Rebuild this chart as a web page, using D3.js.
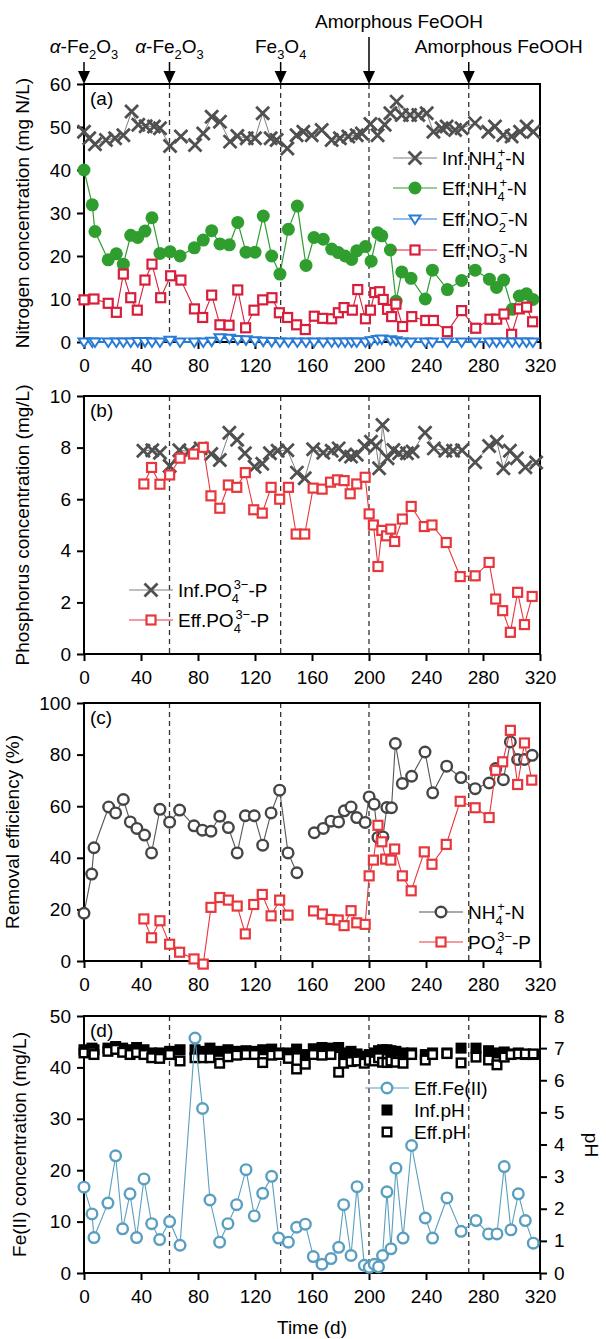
<!DOCTYPE html>
<html>
<head>
<meta charset="utf-8">
<script src="https://cdn.jsdelivr.net/npm/d3@7"></script>
<style>
  body { margin: 0; background: #fff; }
  svg { font-family: "Liberation Sans", Arial, sans-serif; }
</style>
</head>
<body>
<svg id="chart" width="606" height="1339"></svg>
<script>
// ---- data ----
var xTicks = [0, 40, 80, 120, 160, 200, 240, 280, 320];
var phaseDays = [60, 138, 200, 270];
var eventDays = [0, 60, 138, 200, 270];

// (a) nitrogen
var infNH4Day = [0,3.7,7.7,15.4,21.8,27.6,33.4,38.1,43.3,49.1,53.3,60.4,68,77.9,83.7,89.6,95.4,102.5,107.6,114.2,120,125.4,131,135.2,142.7,149.2,153.9,159.8,166.8,173.8,179.6,185.5,191.4,195,201,206,211,215,219.4,223,228.8,234.6,240.5,245.2,251,254.5,260.4,265,274.4,283.7,288.4,294.2,300.1,306,310.6,315.3];
var infNH4 = [48.9,47.4,46,47,47.4,48.1,53.6,50.5,50.2,50.1,49.7,45.6,47.8,45.8,48.5,52.4,51.2,46.6,47.9,47.4,47.4,53.2,47.4,47,45,48.1,48.9,48.1,49.3,47,47.4,47.8,48.1,48.5,50.7,48.1,50.5,53.2,55.9,52.8,52.8,52.8,53.2,48.9,49.7,50.1,49.3,49.7,50.9,48.9,50.1,48.1,47.8,48.9,50.1,48.9];

var effNH4Day = [0,5.8,7.7,17,22.7,27.6,32.8,37.7,42.8,47.7,53.3,60.4,67.4,77.4,83.7,89.6,95.4,102,107.9,113.7,120,125.8,131.7,137.5,143.4,149.7,155.8,161.4,167.9,173.8,178.5,183.2,187.8,191.4,197.5,201.5,206,209,215,219,223,229.5,239.5,244.5,255,265,274.5,284.5,289.5,294.5,300.5,305.5,310.5,315];
var effNH4 = [40,31.9,25.7,19.1,20.5,18.1,24.8,24.3,25.8,28.9,20.6,21,20,21.9,23.7,25.9,22.8,22.6,27.8,20.9,20.9,29.3,20,15.8,26.2,31.6,17.8,24.3,23.9,21.6,20.8,20,19.2,21.2,22.2,18.8,25.4,24.7,21.4,9.5,16.3,14.8,10,16.7,12.2,14.3,16.7,14.6,12.7,14.4,7.6,10.7,11.2,9.9];
var effNO2 = [0,0,0,0,0,0,0,0.1,0.1,0,0,0.4,0,0,0,0.2,1.0,0.9,0.6,0.5,0.3,0.2,0.1,0,0,0,0,0,0,0,0,0,0,0,0,0.3,0.6,0.7,0.5,0.3,0,0,0,0,0,0,0,0,0,0,0,0,0,0];

var effNO3Day = [0,7,17,22.7,27.6,32.8,37.4,42.8,47.7,53.8,60.8,68,77.5,83.3,89.6,95.4,101.8,107.9,113.4,119.3,125.4,131.9,137.1,142.9,149.2,155.3,161.6,167.5,173.8,178.5,182.5,188.3,192.1,197.5,201,204,207.5,210,213,215.9,218.9,223.6,230,239.8,245.2,255,265,274.9,284.9,289.6,294.7,300.1,305.5,310.6,314.8];
var effNO3 = [9.8,10,9,6.9,15.8,10.3,7.4,14.4,18.1,10.3,15.4,14.4,7.7,5.7,10.9,4,3.9,12.1,3.3,7.4,9.8,10.3,6.8,5.7,4,2.9,6,5.5,5.4,6.8,8,7.4,12.2,5.4,7.4,11.5,11.7,9.9,7.6,5.9,8.8,3.6,5.9,5,5,2.4,7.3,3.2,5.3,5.3,6.5,1.8,7.7,8.1,4.7];

// (b) phosphorus
var infPO4Day = [41.7,47.9,53.3,60.1,66.9,73.6,81.8,89.3,95.3,102,107.5,112.9,119.7,125.1,130.5,135.9,142.7,149.4,154.9,160.8,167.9,173.8,178.7,183.3,187.4,191.4,196.8,201.4,204.9,207.1,209.5,213,217.1,221.1,226.6,230.6,239.3,245.5,253.6,259,265.3,274.5,284.3,289.7,294.3,298.9,303.8,309.7,317.3];
var infPO4 = [7.88,7.9,7.8,7.29,7.9,7.85,7.97,7.75,7.52,8.58,8.3,7.78,7.26,7.37,7.78,7.88,7.9,7.03,6.81,7.94,7.8,7.88,7.97,7.72,7.65,7.72,8.06,8.23,8.06,7.2,8.88,7.59,7.91,7.78,7.78,7.85,8.58,7.97,7.88,7.88,7.9,7.43,8.06,8.23,7.2,7.88,7.59,7.24,7.42];
var effPO4Day = [42,47.4,53.3,60.1,67.4,76.9,83.7,89.1,95.3,101.3,107.2,113.2,119.1,125.1,131.3,137.3,143.5,148.9,154.9,160.8,167.1,173,177.9,182.5,186.8,191.4,197.3,200.1,203.1,206.3,209,212.3,215.3,218,223.4,229.6,238.8,244.2,254.2,264,274.5,284.3,288.9,293.8,299.2,304.3,309.1,314.5];
var effPO4 = [6.59,7.23,6.58,6.94,7.59,7.75,8.01,6.13,5.65,6.55,6.46,7.03,5.59,5.46,6.46,6.0,6.46,4.65,4.65,6.43,6.39,6.66,6.75,6.72,6.21,6.59,6.85,5.43,5.0,3.39,4.79,4.58,4.84,4.36,5.23,5.72,4.94,5.0,4.32,3.0,3.03,3.55,2.13,1.68,0.84,2.39,1.14,2.23];

// (c) removal efficiency (null = gap in the line)
var remNH4Day = [0,5.4,7,17.3,22.2,27.6,32.5,37.1,42.5,47.4,53.3,60.1,67.1,77.2,83.1,89.1,95.3,101.3,107.5,113.2,119.5,125.4,131.3,137.3,143.2,149.4,155,161.6,167.9,173.3,178.7,182.7,187.4,191.4,197.3,200.1,203.6,206.3,209.8,212.5,215.8,218.5,223.4,229.9,239.3,244.7,254.5,264.5,274.5,284.3,288.9,294.3,299.2,304.3,309.1,314.5];
var remNH4 = [18.5,33.7,43.9,59.7,57.4,62.6,53.9,51.4,48.8,41.9,58.8,53.8,58.5,52.4,50.7,50.3,56.1,51.7,41.9,56.3,56.3,44.9,57.4,66.2,41.9,34.2,null,49.7,51.4,54.2,53.9,58.2,59.7,55.6,53.7,63.6,60.8,47.9,48.1,59.5,59.4,84.3,68.8,71.6,81,65.2,75.5,71.1,66.8,69,74.6,70.3,84.9,78.1,78.1,79.7];
var remPO4Day = [42,47.4,53.3,60.1,67.1,77.2,83.7,89.1,95.3,101.3,107.5,113.2,119.1,125.1,131.3,137.3,143.2,152,161.1,167.3,173.3,178.4,182.5,187.4,191.4,197.3,200.1,203.1,206.3,209,211.7,215.3,218,223.4,229.6,238.8,244.2,254.2,264,274.5,284.3,288.9,293.8,299.2,304.3,309.1,314.2];
var remPO4 = [16.3,9,15.6,6.5,3.4,0.8,-1.2,20.8,24.6,23.6,21.3,10.5,21.9,25.8,17.5,23.6,17.8,null,19.4,18.2,16.1,15.9,13.7,19.5,14.8,14.2,33,39.1,52.6,46.2,39.5,39.1,43.4,33,27.2,42.3,37.5,45.2,61.9,59.4,55.6,73.9,77.2,89.4,68.4,84.5,70.1];

// (d) Fe(II) and pH
var feDay = [0,5.6,7,16.8,22.2,27.1,32.3,36.9,42.1,47.5,53.1,60.1,67.4,77.9,83.2,88.4,95.2,101,107.1,113.7,119.5,125.4,131.7,136.6,143.4,149.2,155.3,160.9,167,173.3,178.7,182.2,187.4,191.6,196.7,200.2,203.7,206.7,209.5,212.6,215.4,218.9,223.9,229.9,239.5,244.6,254.7,264.6,275.1,283.9,289.8,294.9,299.6,304.8,309.7,315.3];
var effFe = [16.7,11.5,6.9,13.6,22.8,8.6,15.4,6.9,18.3,9.6,6.5,10,5.4,45.7,32,14.2,6,9.6,13.3,20.1,11.1,15.5,18.8,6.8,6,8.9,9.5,3.2,1.7,2.8,5,13.3,3.4,16.8,1.5,1.1,1.7,1.2,3.4,15.8,4.7,20.4,6.8,24.8,10.7,6.8,14.6,8.1,10.2,7.6,7.6,20.7,8.4,15.4,10.2,5.8];
var infPH = [6.95,7.0,6.95,7.0,7.05,7.0,6.95,7.02,6.95,6.85,6.85,6.9,6.95,6.95,6.9,7.0,6.9,6.95,6.9,6.92,6.9,6.95,6.97,6.85,6.85,6.97,6.8,6.98,7.02,7.0,7.02,6.85,6.9,6.82,6.75,6.8,6.85,6.92,6.95,6.95,6.92,6.9,6.85,6.85,6.8,6.85,6.85,7.0,7.0,6.92,6.85,6.88,6.82,6.85,6.8,6.8];
var effPH = [6.85,6.88,6.8,6.9,6.96,6.87,6.8,6.86,6.8,6.7,6.68,6.8,6.6,6.7,6.7,6.7,6.53,6.73,6.78,6.8,6.8,6.55,6.78,6.8,6.68,6.35,6.5,6.8,6.78,6.8,6.25,6.53,6.58,6.6,6.53,6.62,6.6,6.7,6.56,6.55,6.6,6.56,6.53,6.8,6.63,6.8,6.83,6.54,6.72,6.63,6.48,6.72,6.8,6.82,6.82,6.82];

// ---- layout ----
var X0 = 84, X1 = 540;
var FS = 19;
var svg = d3.select("#chart");
var x = d3.scaleLinear().domain([0, 320]).range([X0, X1]);

var C = {
  gray: "#505050", grayLine: "#808080",
  green: "#2f9e2f", blue: "#2a7bd4", redA: "#d81e3a", red: "#e8373c",
  fe: "#5a9fbf"
};

function zip(days, vals) {
  return days.map(function(d, i) { return [d, vals[i]]; });
}

// text with sub / superscripts
function rich(sel, parts, fs) {
  var shift = 0;
  parts.forEach(function(p) {
    if (typeof p === "string") {
      sel.append("tspan").attr("dy", -shift).text(p);
      shift = 0;
    } else if (p.it) {
      sel.append("tspan").attr("dy", -shift).attr("font-style", "italic").text(p.it);
      shift = 0;
    } else if (p.sub && p.sup) {
      var sfs = fs * 0.68;
      var w = p.sub.length * 0.556 * sfs;
      sel.append("tspan").attr("font-size", sfs).attr("dy", fs * 0.3 - shift).text(p.sub);
      sel.append("tspan").attr("font-size", sfs).attr("dx", -w * 0.75).attr("dy", -fs * 0.72).text(p.sup);
      shift = -fs * 0.42;
    } else if (p.sub) {
      sel.append("tspan").attr("font-size", fs * 0.68).attr("dy", fs * 0.3 - shift).text(p.sub);
      shift = fs * 0.3;
    } else if (p.sup) {
      sel.append("tspan").attr("font-size", fs * 0.68).attr("dy", -fs * 0.42 - shift).text(p.sup);
      shift = -fs * 0.42;
    }
  });
}

// markers
function marker(g, type, color, px, py) {
  if (type === "x") {
    var s = 6.5;
    g.append("path").attr("d", "M" + (px - s) + "," + (py - s) + "L" + (px + s) + "," + (py + s) +
      "M" + (px - s) + "," + (py + s) + "L" + (px + s) + "," + (py - s))
      .attr("stroke", color).attr("stroke-width", 2.8).attr("fill", "none");
  } else if (type === "dot") {
    g.append("circle").attr("cx", px).attr("cy", py).attr("r", 6.5).attr("fill", color);
  } else if (type === "circ") {
    g.append("circle").attr("cx", px).attr("cy", py).attr("r", 5.3)
      .attr("fill", "#fff").attr("stroke", color).attr("stroke-width", 2.4);
  } else if (type === "tri") {
    g.append("path").attr("d", "M" + (px - 5.5) + "," + (py - 3.5) + "L" + (px + 5.5) + "," + (py - 3.5) + "L" + px + "," + (py + 5) + "Z")
      .attr("fill", "#fff").attr("stroke", color).attr("stroke-width", 2);
  } else if (type === "sq") {
    g.append("rect").attr("x", px - 4.5).attr("y", py - 4.5).attr("width", 9).attr("height", 9)
      .attr("fill", "#fff").attr("stroke", color).attr("stroke-width", 2.2);
  } else if (type === "fsq") {
    g.append("rect").attr("x", px - 5.5).attr("y", py - 5.5).attr("width", 11).attr("height", 11)
      .attr("fill", color);
  } else if (type === "hsq") {
    g.append("rect").attr("x", px - 4.3).attr("y", py - 4.3).attr("width", 8.6).attr("height", 8.6)
      .attr("fill", "#fff").attr("stroke", color).attr("stroke-width", 2.4);
  }
}

function series(g, y, data, type, color, lineColor, lw) {
  if (lineColor) {
    var line = d3.line()
      .defined(function(d) { return d[1] != null; })
      .x(function(d) { return x(d[0]); })
      .y(function(d) { return y(d[1]); });
    g.append("path").datum(data).attr("d", line)
      .attr("fill", "none").attr("stroke", lineColor).attr("stroke-width", lw || 1);
  }
  data.forEach(function(d) {
    if (d[1] != null) marker(g, type, color, x(d[0]), y(d[1]));
  });
}

function panel(top, bottom, yDomain, yTicks, tag, title, titleX) {
  var y = d3.scaleLinear().domain(yDomain).range([bottom, top]);
  var g = svg.append("g");

  // phase boundaries
  phaseDays.forEach(function(d) {
    g.append("line").attr("x1", x(d)).attr("x2", x(d)).attr("y1", top).attr("y2", bottom)
      .attr("stroke", "#333").attr("stroke-width", 1.3).attr("stroke-dasharray", "5,4");
  });

  var yAxis = g.append("g").attr("transform", "translate(" + X0 + ",0)")
    .call(d3.axisLeft(y).tickValues(yTicks).tickSize(7).tickPadding(6).tickSizeOuter(0));
  var xAxis = g.append("g").attr("transform", "translate(0," + bottom + ")")
    .call(d3.axisBottom(x).tickValues(xTicks).tickSize(7).tickPadding(10).tickSizeOuter(0));
  [yAxis, xAxis].forEach(function(a) {
    a.select(".domain").remove();
    a.selectAll(".tick line").attr("stroke", "#000").attr("stroke-width", 2);
    a.selectAll("text").attr("font-size", FS).attr("fill", "#000")
      .style("font-family", "'Liberation Sans', Arial, sans-serif");
  });

  g.append("rect").attr("x", X0).attr("y", top).attr("width", X1 - X0).attr("height", bottom - top)
    .attr("fill", "none").attr("stroke", "#000").attr("stroke-width", 2);

  g.append("text").attr("x", 90).attr("y", top + 21).attr("font-size", FS).text(tag);

  g.append("text").attr("transform", "translate(" + titleX + "," + ((top + bottom) / 2) + ") rotate(-90)")
    .attr("text-anchor", "middle").attr("font-size", FS).text(title);

  return { g: g, y: y };
}

function legendRow(g, lx, ly, type, color, lineColor, parts) {
  if (lineColor) {
    g.append("line").attr("x1", lx - 22).attr("x2", lx + 22).attr("y1", ly).attr("y2", ly)
      .attr("stroke", lineColor).attr("stroke-width", 1.2);
  }
  marker(g, type, color, lx, ly);
  var t = g.append("text").attr("x", lx + 27).attr("y", ly + 7).attr("font-size", FS);
  rich(t, parts, FS);
}

// ---- top event arrows ----
var events = [
  [{ it: "α" }, "-Fe", { sub: "2" }, "O", { sub: "3" }],
  [{ it: "α" }, "-Fe", { sub: "2" }, "O", { sub: "3" }],
  ["Fe", { sub: "3" }, "O", { sub: "4" }],
  ["Amorphous FeOOH"],
  ["Amorphous FeOOH"]
];
eventDays.forEach(function(d, i) {
  var ex = x(d);
  var upper = (i === 3);
  var t = svg.append("text").attr("font-size", FS).attr("y", upper ? 28 : 53);
  if (i >= 3) t.attr("x", ex - 54); else t.attr("x", ex).attr("text-anchor", "middle");
  rich(t, events[i], FS);
  svg.append("line").attr("x1", ex).attr("x2", ex).attr("y1", upper ? 37 : 62).attr("y2", 74)
    .attr("stroke", "#000").attr("stroke-width", 1.5);
  svg.append("path").attr("d", "M" + (ex - 6) + ",71L" + (ex + 6) + ",71L" + ex + ",84Z").attr("fill", "#000");
});

// ---- (a) ----
var pa = panel(84, 342, [0, 60], [0, 10, 20, 30, 40, 50, 60], "(a)", "Nitrogen concentration (mg N/L)", 29);
series(pa.g, pa.y, zip(infNH4Day, infNH4), "x", C.gray, C.grayLine, 1);
series(pa.g, pa.y, zip(effNH4Day, effNH4), "dot", C.green, C.green, 1.2);
series(pa.g, pa.y, zip(effNO3Day, effNO3), "sq", C.redA, C.redA, 1.1);
series(pa.g, pa.y, zip(effNH4Day, effNO2), "tri", C.blue, C.blue, 2);
legendRow(pa.g, 415, 158, "x", C.gray, C.grayLine, ["Inf.NH", { sub: "4", sup: "+" }, "-N"]);
legendRow(pa.g, 415, 188, "dot", C.green, C.green, ["Eff.NH", { sub: "4", sup: "+" }, "-N"]);
legendRow(pa.g, 415, 219, "tri", C.blue, C.blue, ["Eff.NO", { sub: "2", sup: "−" }, "-N"]);
legendRow(pa.g, 415, 250, "sq", C.redA, C.redA, ["Eff.NO", { sub: "3", sup: "−" }, "-N"]);

// ---- (b) ----
var pb = panel(396, 654, [0, 10], [0, 2, 4, 6, 8, 10], "(b)", "Phosphorus concentration (mg/L)", 29);
series(pb.g, pb.y, zip(infPO4Day, infPO4), "x", C.gray, C.grayLine, 1);
series(pb.g, pb.y, zip(effPO4Day, effPO4), "sq", C.red, C.red, 1.1);
legendRow(pb.g, 151, 590, "x", C.gray, C.grayLine, ["Inf.PO", { sub: "4", sup: "3−" }, "-P"]);
legendRow(pb.g, 151, 620, "sq", C.red, C.red, ["Eff.PO", { sub: "4", sup: "3−" }, "-P"]);

// ---- (c) ----
var pc = panel(703, 961, [0, 100], [0, 20, 40, 60, 80, 100], "(c)", "Removal efficiency (%)", 19);
series(pc.g, pc.y, zip(remNH4Day, remNH4), "circ", "#454545", "#555", 1.1);
series(pc.g, pc.y, zip(remPO4Day, remPO4), "sq", C.red, C.red, 1.1);
legendRow(pc.g, 441, 912, "circ", "#454545", "#555", ["NH", { sub: "4", sup: "+" }, "-N"]);
legendRow(pc.g, 441, 942, "sq", C.red, C.red, ["PO", { sub: "4", sup: "3−" }, "-P"]);

// ---- (d) ----
var pd = panel(1016, 1273, [0, 50], [0, 10, 20, 30, 40, 50], "(d)", "Fe(II) concentration (mg/L)", 26);
var yPH = d3.scaleLinear().domain([0, 8]).range([1273, 1016]);
var rAxis = pd.g.append("g").attr("transform", "translate(" + X1 + ",0)")
  .call(d3.axisRight(yPH).tickValues([0, 1, 2, 3, 4, 5, 6, 7, 8]).tickSize(7).tickPadding(7).tickSizeOuter(0));
rAxis.select(".domain").remove();
rAxis.selectAll(".tick line").attr("stroke", "#000").attr("stroke-width", 2);
rAxis.selectAll("text").attr("font-size", FS).attr("fill", "#000")
  .style("font-family", "'Liberation Sans', Arial, sans-serif");
pd.g.append("text").attr("transform", "translate(585,1145) rotate(90)")
  .attr("text-anchor", "middle").attr("font-size", FS).text("pH");

series(pd.g, yPH, zip(feDay, infPH), "fsq", "#000", null);
series(pd.g, yPH, zip(feDay, effPH), "hsq", "#000", null);
series(pd.g, pd.y, zip(feDay, effFe), "circ", C.fe, C.fe, 1.1);
legendRow(pd.g, 387, 1088, "circ", C.fe, C.fe, ["Eff.Fe(II)"]);
legendRow(pd.g, 387, 1110, "fsq", "#000", null, ["Inf.pH"]);
legendRow(pd.g, 387, 1132, "hsq", "#000", null, ["Eff.pH"]);

svg.append("text").attr("x", (X0 + X1) / 2).attr("y", 1334).attr("text-anchor", "middle")
  .attr("font-size", FS).text("Time (d)");
</script>
</body>
</html>
